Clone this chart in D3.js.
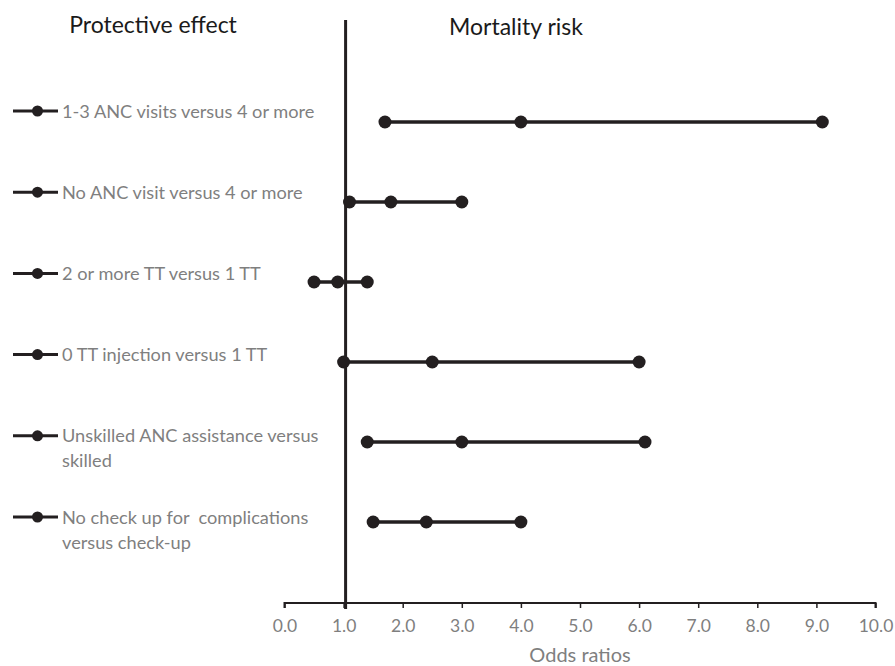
<!DOCTYPE html>
<html>
<head>
<meta charset="utf-8">
<script src="https://cdn.jsdelivr.net/npm/d3@7"></script>
<style>
  html, body { margin: 0; padding: 0; background: #fff; }
  svg { display: block; font-family: Lato, "Open Sans", sans-serif; }
  .leg text { white-space: pre; }
</style>
</head>
<body>
<svg id="chart" width="895" height="666"></svg>
<script>
const categories = [
  ["1-3 ANC visits versus 4 or more"],
  ["No ANC visit versus 4 or more"],
  ["2 or more TT versus 1 TT"],
  ["0 TT injection versus 1 TT"],
  ["Unskilled ANC assistance versus", "skilled"],
  ["No check up for  complications", "versus check-up"]
];
const lowerCI = [1.7, 1.1, 0.5, 1.0, 1.4, 1.5];
const oddsRatio = [4.0, 1.8, 0.9, 2.5, 3.0, 2.4];
const upperCI = [9.1, 3.0, 1.4, 6.0, 6.1, 4.0];
const xTicks = [0, 1, 2, 3, 4, 5, 6, 7, 8, 9, 10];
const titles = ["Protective effect", "Mortality risk"];
const axisTitle = "Odds ratios";

const dark = "#231f20";
const grey = "#7f7f7f";
const svg = d3.select("#chart");

const x = d3.scaleLinear().domain([0, 10]).range([284.5, 875.5]);
const ids = categories.map((d, i) => i);
const y = d3.scalePoint().domain(ids).range([122, 522]);
const yLeg = d3.scalePoint().domain(ids).range([111, 517]);
const axisY = 603;

// titles
svg.append("text").attr("x", 153).attr("y", 33).attr("text-anchor", "middle")
  .attr("font-size", 23).attr("fill", "#1a1a1a").text(titles[0]);
svg.append("text").attr("x", 516).attr("y", 35).attr("text-anchor", "middle")
  .attr("font-size", 23).attr("fill", "#1a1a1a").text(titles[1]);

// x axis
const axis = d3.axisBottom(x).tickValues(xTicks).tickFormat(d3.format(".1f"))
  .tickSize(5).tickSizeOuter(5).tickPadding(12);
const gx = svg.append("g").attr("transform", `translate(0,${axisY})`).call(axis);
gx.select(".domain").attr("stroke", dark).attr("stroke-width", 2)
  .attr("d", `M${x(0)},5V0H${x(10)}V5`);
gx.selectAll(".tick line").attr("stroke", dark).attr("stroke-width", 1.5);
gx.selectAll(".tick text").attr("fill", grey).attr("font-size", 17.5)
  .attr("font-family", "Lato, sans-serif");

svg.append("text").attr("x", x(5)).attr("y", 662).attr("text-anchor", "middle")
  .attr("font-size", 20).attr("fill", grey).text(axisTitle);

// reference line at OR = 1
svg.append("line").attr("x1", x(1) + 2).attr("x2", x(1) + 2)
  .attr("y1", 20).attr("y2", axisY + 6)
  .attr("stroke", dark).attr("stroke-width", 3);

// data rows
const rows = svg.append("g").selectAll("g").data(ids).join("g");
rows.append("line")
  .attr("x1", i => x(lowerCI[i])).attr("x2", i => x(upperCI[i]))
  .attr("y1", i => y(i)).attr("y2", i => y(i))
  .attr("stroke", dark).attr("stroke-width", 3.5);
rows.selectAll("circle").data(i => [lowerCI[i], oddsRatio[i], upperCI[i]].map(v => ({v, i})))
  .join("circle")
  .attr("cx", d => x(d.v)).attr("cy", d => y(d.i)).attr("r", 6.5).attr("fill", dark);

// legend
const leg = svg.append("g").attr("class", "leg").selectAll("g").data(ids).join("g")
  .attr("transform", i => `translate(0,${yLeg(i)})`);
leg.append("line").attr("x1", 13).attr("x2", 58).attr("y1", 0).attr("y2", 0)
  .attr("stroke", dark).attr("stroke-width", 3);
leg.append("circle").attr("cx", 37.5).attr("cy", 0).attr("r", 5.5).attr("fill", dark);
leg.append("text").attr("x", 62).attr("y", 6.5).attr("font-size", 18.2).attr("fill", grey)
  .selectAll("tspan").data(i => categories[i]).join("tspan")
  .attr("x", 62).attr("dy", (d, k) => k === 0 ? 0 : 25).text(d => d);
</script>
</body>
</html>
